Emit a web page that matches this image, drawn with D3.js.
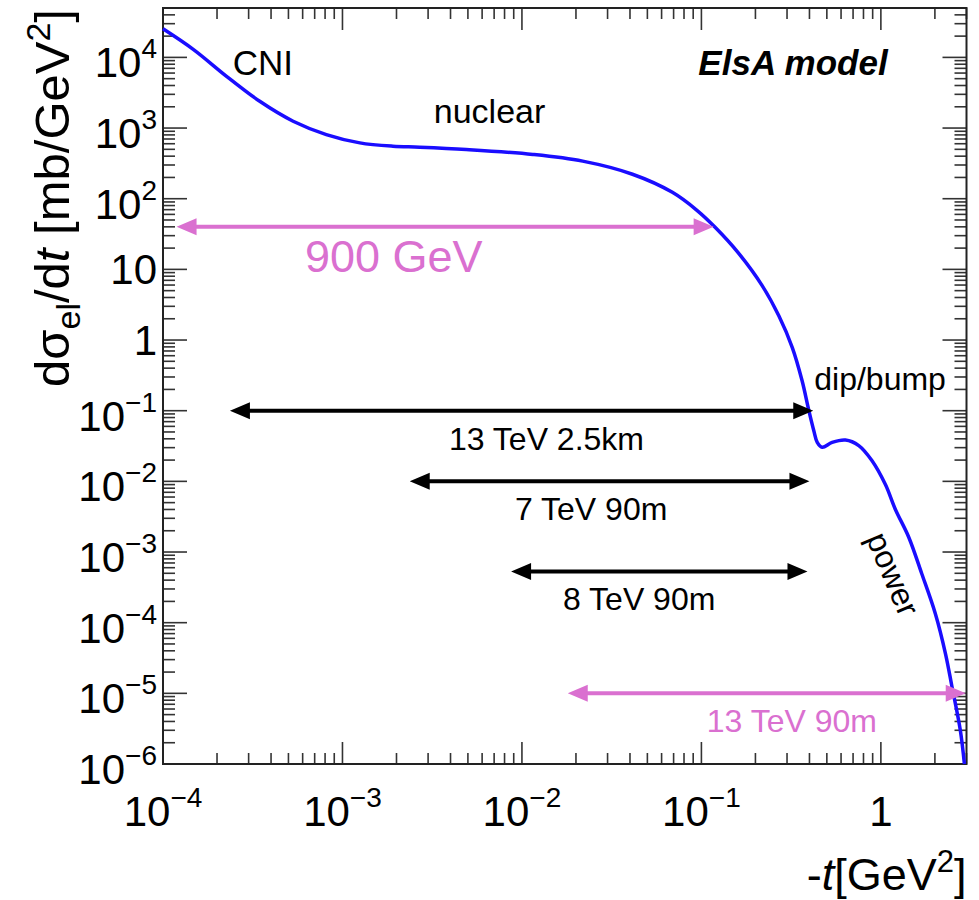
<!DOCTYPE html>
<html>
<head>
<meta charset="utf-8">
<script src="https://cdn.jsdelivr.net/npm/d3@7"></script>
<style>
  body { margin: 0; background: #fff; }
  text { font-family: 'Liberation Sans', Arial, Helvetica, sans-serif; }
</style>
</head>
<body>
<svg id="chart" width="979" height="900"></svg>
<script>
'use strict';

// curve: -t [GeV^2] and dsigma/dt [mb/GeV^2]
var tPts = [1.0e-4, 1.48e-4, 2.26e-4, 3.46e-4, 5.31e-4, 8.13e-4, 1.25e-3, 1.91e-3,
  2.69e-3, 4.89e-3, 1.15e-2, 2.18e-2, 4.13e-2, 6.89e-2, 9.48e-2, 0.120, 0.161,
  0.218, 0.270, 0.321, 0.364, 0.397, 0.423, 0.442, 0.471, 0.535, 0.635, 0.753,
  0.891, 1.06, 1.205, 1.43, 1.69, 2.01, 2.29, 2.49, 2.77, 2.92];
var dsdtPts = [2.54e4, 1.29e4, 5.4e3, 2.39e3, 1.25e3, 809, 617, 553,
  536, 497, 423, 340, 222, 123, 68, 38.8, 17.0,
  5.9, 2.2, 0.783, 0.265, 0.100, 0.052, 0.0356, 0.0303, 0.0356, 0.0385, 0.0321,
  0.0197, 9.0e-3, 4.0e-3, 1.62e-3, 4.93e-4, 1.35e-4, 3.66e-5, 1.24e-5, 3.02e-6, 1.0e-6];

// t-range arrows
var rangeLabels = ['900 GeV', '13 TeV 2.5km', '7 TeV 90m', '8 TeV 90m', '13 TeV 90m'];
var rangeTMin = [1.19e-4, 2.36e-4, 2.37e-3, 8.7e-3, 0.018];
var rangeTMax = [0.117, 0.42, 0.40, 0.39, 2.97];
var rangeLevel = [40, 0.1, 0.01, 5.3e-4, 1e-5];
var rangeLabelT = [1.93e-3, 0.0137, 0.0243, 0.045, 0.319];
var rangeMagenta = [true, false, false, false, true];

(function (d3) {
  var left = 163, right = 966.5, top = 8, bottom = 764;
  var blue = '#1a0dff', magenta = '#da70d0';

  var svg = d3.select('#chart');

  var x = d3.scaleLog().domain([1e-4, 3]).range([left, right]);
  var y = d3.scaleLog().domain([1e-6, 5e4]).range([bottom, top]);

  function isMajor(v) {
    var l = Math.log10(v);
    return Math.abs(l - Math.round(l)) < 1e-6;
  }

  function addPow(sel, v) {
    var e = Math.round(Math.log10(v));
    if (e === 0) { sel.text('1'); return false; }
    if (e === 1) { sel.text('10'); return false; }
    sel.append('tspan').text('10');
    sel.append('tspan')
      .attr('font-size', 28)
      .attr('dy', -19)
      .text(e < 0 ? '\u2212' + (-e) : String(e));
    return true;
  }

  // frame ticks, mirrored on all four sides
  var g = svg.append('g').attr('stroke', '#333').attr('stroke-width', 1.6);
  x.ticks(40).filter(function (v) { return v >= 1e-4 && v <= 3; }).forEach(function (v) {
    var len = isMajor(v) ? 22 : 11;
    g.append('line').attr('x1', x(v)).attr('x2', x(v)).attr('y1', bottom).attr('y2', bottom - len);
    g.append('line').attr('x1', x(v)).attr('x2', x(v)).attr('y1', top).attr('y2', top + len);
  });
  y.ticks(40).filter(function (v) { return v >= 1e-6 && v <= 5e4; }).forEach(function (v) {
    var len = isMajor(v) ? 24 : 12;
    g.append('line').attr('y1', y(v)).attr('y2', y(v)).attr('x1', left).attr('x2', left + len);
    g.append('line').attr('y1', y(v)).attr('y2', y(v)).attr('x1', right).attr('x2', right - len);
  });

  svg.append('rect')
    .attr('x', left).attr('y', top)
    .attr('width', right - left).attr('height', bottom - top)
    .attr('fill', 'none')
    .attr('stroke', '#222')
    .attr('stroke-width', 2);

  // tick labels
  x.ticks(40).filter(isMajor).filter(function (v) { return v <= 3; }).forEach(function (v) {
    var t = svg.append('text')
      .attr('x', x(v))
      .attr('y', 826)
      .attr('text-anchor', 'middle')
      .attr('font-size', 42);
    addPow(t, v);
  });
  y.ticks(40).filter(isMajor).filter(function (v) { return v <= 5e4; }).forEach(function (v) {
    var t = svg.append('text')
      .attr('x', 157)
      .attr('text-anchor', 'end')
      .attr('font-size', 42);
    var sup = addPow(t, v);
    t.attr('y', y(v) + (sup ? 20 : 15));
  });

  // axis titles
  var yt = svg.append('text')
    .attr('transform', 'translate(69,9) rotate(-90)')
    .attr('text-anchor', 'end')
    .attr('font-size', 49);
  yt.append('tspan').text('d\u03c3');
  yt.append('tspan').attr('font-size', 34).attr('dy', 11).text('el');
  yt.append('tspan').attr('dy', -11).text('/d');
  yt.append('tspan').attr('font-style', 'italic').text('t');
  yt.append('tspan').text(' [mb/GeV');
  yt.append('tspan').attr('font-size', 34).attr('dy', -19).text('2');
  yt.append('tspan').attr('dy', 19).text(']');

  var xt = svg.append('text')
    .attr('x', right)
    .attr('y', 890)
    .attr('text-anchor', 'end')
    .attr('font-size', 45);
  xt.append('tspan').text('-');
  xt.append('tspan').attr('font-style', 'italic').text('t');
  xt.append('tspan').text('[GeV');
  xt.append('tspan').attr('font-size', 31).attr('dy', -18).text('2');
  xt.append('tspan').attr('dy', 18).text(']');

  // model curve
  var line = d3.line()
    .x(function (d) { return x(d[0]); })
    .y(function (d) { return y(d[1]); })
    .curve(d3.curveCatmullRom.alpha(0.5));

  svg.append('path')
    .datum(d3.zip(tPts, dsdtPts))
    .attr('d', line)
    .attr('fill', 'none')
    .attr('stroke', blue)
    .attr('stroke-width', 3.5);

  // range arrows
  var headL = 20, headW = 8.5;
  rangeLabels.forEach(function (lab, i) {
    var col = rangeMagenta[i] ? magenta : '#000';
    var x0 = x(rangeTMin[i]), x1 = x(rangeTMax[i]), yy = y(rangeLevel[i]);
    svg.append('line')
      .attr('x1', x0 + headL - 2).attr('x2', x1 - headL + 2)
      .attr('y1', yy).attr('y2', yy)
      .attr('stroke', col)
      .attr('stroke-width', 4);
    svg.append('path')
      .attr('d', 'M' + x0 + ',' + yy + 'L' + (x0 + headL) + ',' + (yy - headW) + 'L' + (x0 + headL) + ',' + (yy + headW) + 'Z' +
                 'M' + x1 + ',' + yy + 'L' + (x1 - headL) + ',' + (yy - headW) + 'L' + (x1 - headL) + ',' + (yy + headW) + 'Z')
      .attr('fill', col);
    svg.append('text')
      .attr('x', x(rangeLabelT[i]))
      .attr('y', yy + (i === 0 ? 45 : 39))
      .attr('text-anchor', 'middle')
      .attr('font-size', i === 0 ? 45 : 32)
      .attr('fill', col)
      .text(lab);
  });

  // region annotations, placed in data coordinates
  var notes = [
    { text: 'CNI', t: 3.6e-4, v: 5.6e3, size: 35 },
    { text: 'nuclear', t: 6.6e-3, v: 1.18e3, size: 34 },
    { text: 'dip/bump', t: 0.99, v: 0.196, size: 32 },
    { text: 'ElsA model', t: 0.324, v: 5.6e3, size: 35, bold: true }
  ];
  notes.forEach(function (n) {
    svg.append('text')
      .attr('x', x(n.t))
      .attr('y', y(n.v))
      .attr('text-anchor', 'middle')
      .attr('font-size', n.size)
      .attr('font-weight', n.bold ? 'bold' : null)
      .attr('font-style', n.bold ? 'italic' : null)
      .text(n.text);
  });

  svg.append('text')
    .attr('transform', 'translate(' + x(1.17) + ',' + y(4.9e-4) + ') rotate(67)')
    .attr('text-anchor', 'middle')
    .attr('dy', '0.35em')
    .attr('font-size', 32)
    .text('power');
})(d3);
</script>
</body>
</html>
